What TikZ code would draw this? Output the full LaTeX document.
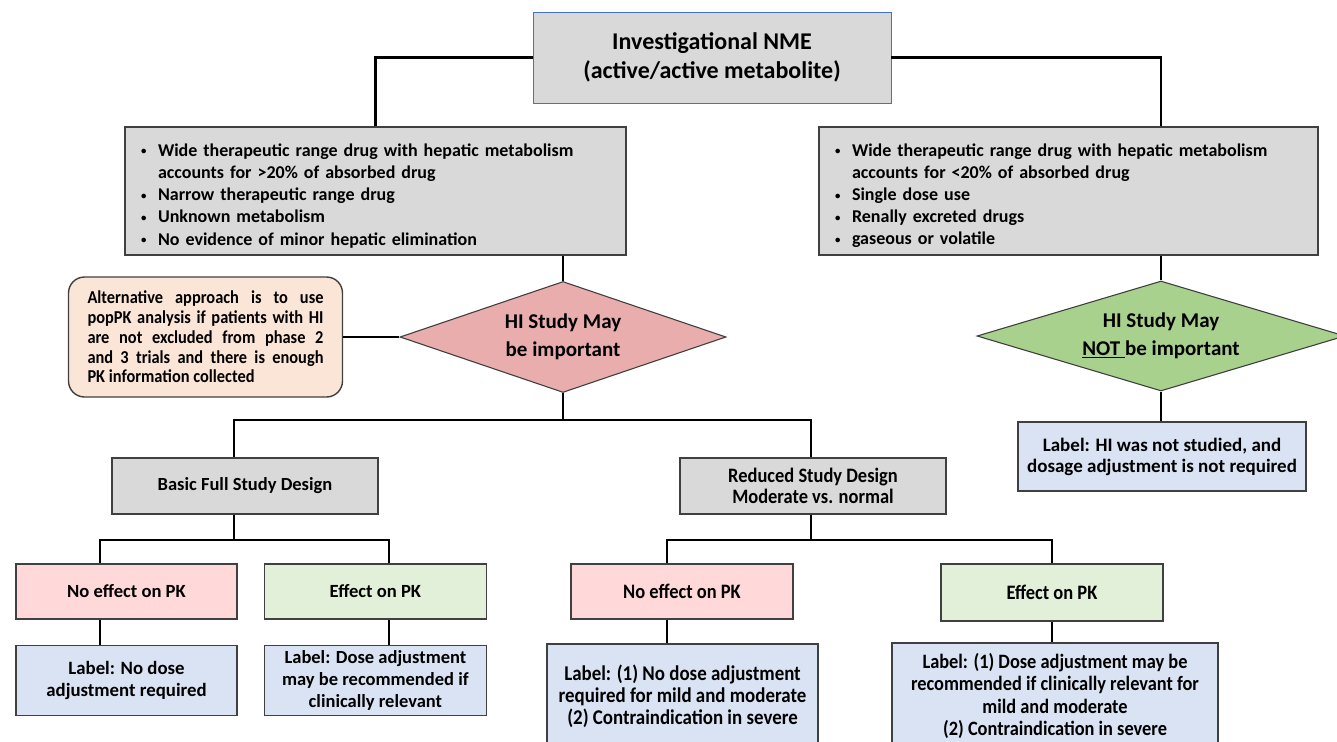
\documentclass[tikz,border=0pt]{standalone}
\usepackage{fontspec}
\setmainfont{Carlito}
\newfontfamily\narrowfont{Carlito}[FakeStretch=0.9]
\usetikzlibrary{positioning, shapes.geometric}

\definecolor{boxgrey}{HTML}{D9D9D9}
\definecolor{nmeblue}{HTML}{4472C4}
\definecolor{hired}{HTML}{EAADAD}
\definecolor{higreen}{HTML}{A9D18E}
\definecolor{altorange}{HTML}{FBE5D6}
\definecolor{nopink}{HTML}{FFD9D9}
\definecolor{effgreen}{HTML}{E2F0D9}
\definecolor{lblblue}{HTML}{DAE3F3}
\definecolor{edgegrey}{HTML}{404040}

% bullet line with hanging indent
\newcommand{\bul}[1]{\par\noindent\hangindent=20pt\hangafter=1\makebox[20pt][l]{\hspace{3pt}\raisebox{1.5pt}{\scalebox{0.6}{\textbullet}}}#1}

\begin{document}
\begin{tikzpicture}[x=1pt, y=-1pt, line width=2.3pt,
	box/.style={draw=edgegrey, line width=1.4pt, align=center, inner sep=0pt},
	critbox/.style={box, fill=boxgrey, align=left, inner xsep=13pt, minimum height=128pt, font=\bfseries\fontsize{18}{22.2}\selectfont},
	choice/.style={draw=edgegrey, line width=1.1pt, diamond, inner sep=0pt, align=center, font=\bfseries\fontsize{21}{28}\selectfont},
	pkbox/.style={box, minimum width=222pt, minimum height=55pt, font=\bfseries\fontsize{18.6}{20}\selectfont},
	lblbox/.style={box, fill=lblblue, font=\bfseries\fontsize{18.8}{22}\selectfont}]
	\clip (0,0) rectangle (1337,741);
	
	\node [box, fill=boxgrey, draw=nmeblue, line width=0.9pt, minimum width=358pt, minimum height=91pt, font=\bfseries\fontsize{24}{29}\selectfont] (nme) at (712,57.5) {Investigational NME\\(active/active metabolite)};
	
	\node [critbox, text width=475pt] (critA) at (375.5,191) {%
		\bul{Wide therapeutic range drug with hepatic metabolism\newline accounts for >20\% of absorbed drug}
		\bul{Narrow therapeutic range drug}
		\bul{Unknown metabolism}
		\bul{No evidence of minor hepatic elimination}};
	\node [critbox, text width=473pt] (critB) at (1068.5,191) {%
		\bul{Wide therapeutic range drug with hepatic metabolism\newline accounts for <20\% of absorbed drug}
		\bul{Single dose use}
		\bul{Renally excreted drugs}
		\bul{gaseous or volatile}};
	
	\node [choice, fill=hired, aspect=2.94, minimum width=326pt, minimum height=111pt] (hi) at (563,337) {HI Study May\\be important};
	\node [choice, fill=higreen, aspect=3.35, minimum width=368pt, minimum height=110pt] (nohi) at (1161,336) {HI Study May\\\underline{NOT }be important};
	
	\node [box, fill=altorange, rounded corners=16pt, text width=236pt, inner xsep=19pt, minimum height=120pt, align=justify, font=\narrowfont\bfseries\fontsize{18.2}{19.8}\selectfont] (alt) at (205.5,337) {Alternative approach is to use\linebreak popPK analysis if patients with HI\linebreak are not excluded from phase 2\linebreak and 3 trials and there is enough\linebreak PK information collected};
	
	\node [lblbox, minimum width=288pt, minimum height=69pt, font=\bfseries\fontsize{19}{21}\selectfont] (lblN) at (1162,456.5) {Label: HI was not studied, and\\dosage adjustment is not required};
	
	\node [box, fill=boxgrey, minimum width=266pt, minimum height=56pt, font=\bfseries\fontsize{18.5}{21}\selectfont] (basic) at (245,486) {Basic Full Study Design};
	\node [box, fill=boxgrey, minimum width=266pt, minimum height=56pt, font=\narrowfont\bfseries\fontsize{20.5}{21}\selectfont] (reduced) at (813,486) {Reduced Study Design\\Moderate vs. normal};
	
	\node [pkbox, fill=nopink, minimum width=221pt] (noeffA) at (126.5,591.5) {No effect on PK};
	\node [pkbox, fill=effgreen, right=26pt of noeffA] (effA) {Effect on PK};
	\node [lblbox, minimum width=221pt, minimum height=70pt, below=25pt of noeffA] (lblA) {Label: No dose\\adjustment required};
	\node [lblbox, minimum width=222pt, minimum height=70pt, below=25pt of effA, font=\bfseries\fontsize{18.5}{22}\selectfont] (lblB) {Label: Dose adjustment\\may be recommended if\\clinically relevant};
	
	\node [pkbox, fill=nopink, font=\narrowfont\bfseries\fontsize{20.5}{20}\selectfont] (noeffB) at (682,591.5) {No effect on PK};
	\node [pkbox, fill=effgreen, minimum height=57pt, font=\narrowfont\bfseries\fontsize{20.5}{20}\selectfont] (effB) at (1052,592.5) {Effect on PK};
	\node [lblbox, minimum width=271pt, minimum height=104pt, font=\narrowfont\bfseries\fontsize{21}{22}\selectfont] (lblC) at (682.5,696) {Label: (1) No dose adjustment\\required for mild and moderate\\(2) Contraindication in severe};
	\node [lblbox, minimum width=326pt, minimum height=106pt, font=\narrowfont\bfseries\fontsize{20.4}{22.3}\selectfont] (lblD) at (1055,696) {Label: (1) Dose adjustment may be\\recommended if clinically relevant for\\mild and moderate\\(2) Contraindication in severe};
	
	% junction points
	\coordinate (sl) at (234,420);
	\coordinate (sr) at (811,420);
	\coordinate (bl) at (100,540);
	\coordinate (bj) at (234,540);
	\coordinate (br) at (389,540);
	\coordinate (rl) at (667,540);
	\coordinate (rj) at (811,540);
	\coordinate (rr) at (1052,540);
	
	\draw (nme.west) -| (critA.north);
	\draw (nme.east) -| (critB.north -| nohi.north);
	\draw (critA.south -| hi.north) -- (hi.north);
	\draw (critB.south -| nohi.north) -- (nohi.north);
	\draw (alt.east) -- (hi.west);
	\draw (nohi.south) -- (lblN.north -| nohi.south);
	
	\draw (hi.south) -- (hi.south |- sl);
	\draw (basic.north -| sl) -- (sl) -- (sr) -- (reduced.north -| sr);
	
	\draw (basic.south -| bj) -- (bj);
	\draw (noeffA.north -| bl) -- (bl) -- (br) -- (effA.north -| br);
	\draw (noeffA.south -| bl) -- (lblA.north -| bl);
	\draw (effA.south -| br) -- (lblB.north -| br);
	
	\draw (reduced.south -| rj) -- (rj);
	\draw (noeffB.north -| rl) -- (rl) -- (rr) -- (effB.north -| rr);
	\draw (noeffB.south -| rl) -- (lblC.north -| rl);
	\draw (effB.south -| rr) -- (lblD.north -| rr);
\end{tikzpicture}
\end{document}
